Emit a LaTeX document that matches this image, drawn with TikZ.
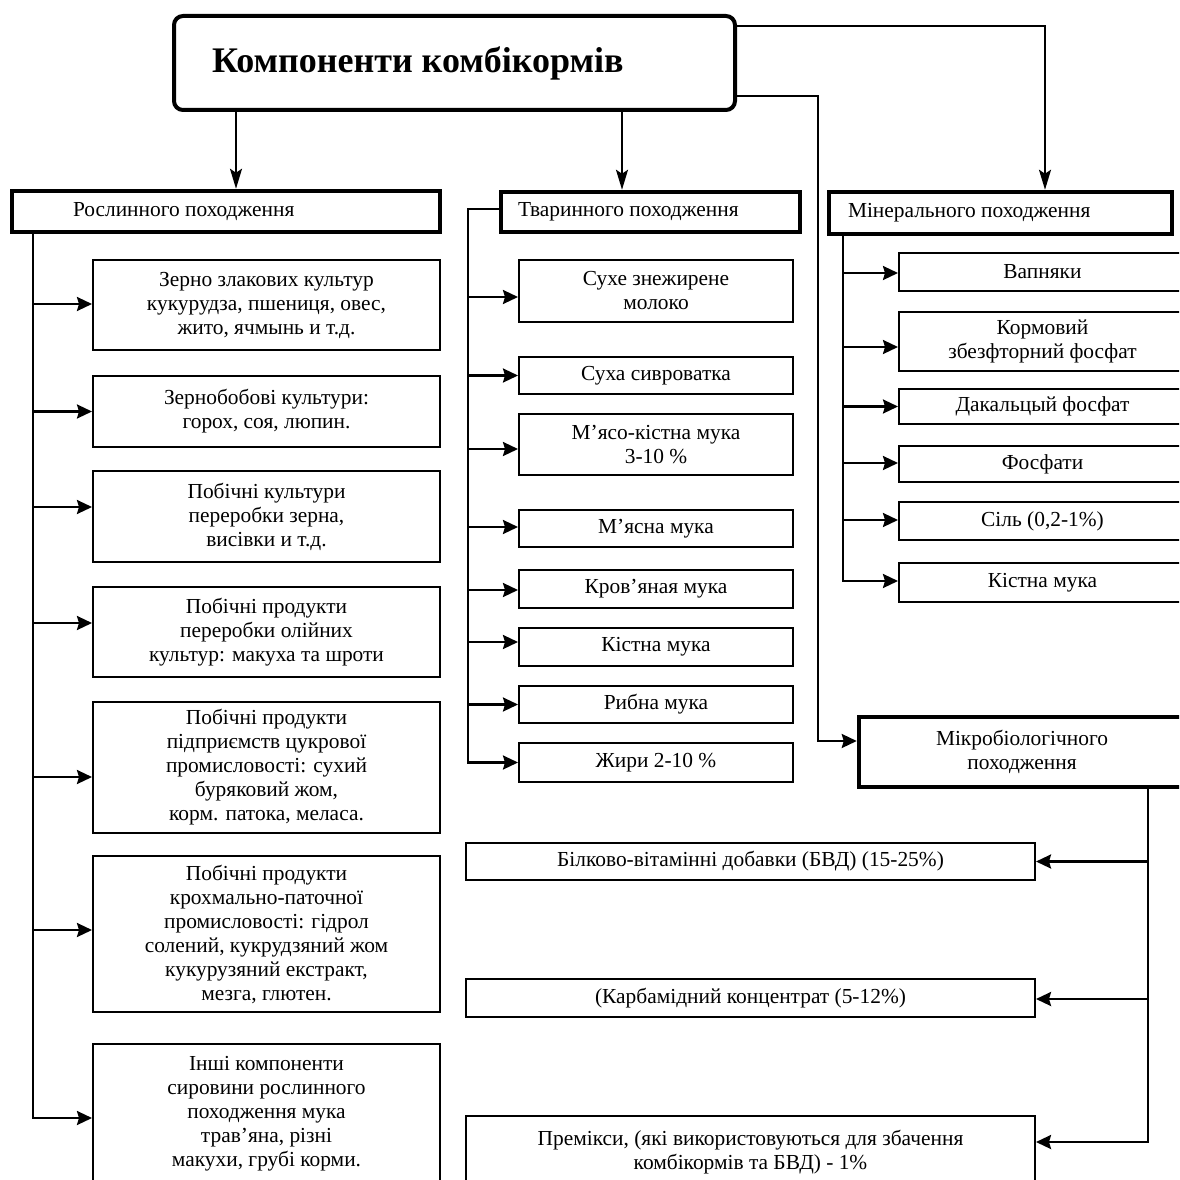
\documentclass[tikz,border=0pt]{standalone}
\usepackage{fontspec}
\setmainfont{Liberation Serif}
\usetikzlibrary{arrows.meta}
\begin{document}
\begin{tikzpicture}[x=1pt,y=-1pt,
  box/.style={draw, line width=2pt, align=center, inner sep=0pt,
    font=\fontsize{21.4}{24}\selectfont},
  catbox/.style={box, line width=4.5pt},
  titlebox/.style={draw, line width=4pt, rounded corners=9pt, inner sep=0pt,
    font=\fontsize{36}{40}\selectfont\bfseries},
  arr/.style={line width=2.4pt, -{Stealth[length=15pt,width=14pt,inset=2pt]}},
  downarr/.style={line width=2pt, -{Stealth[length=20pt,width=12pt,inset=4pt]}}]

\path[use as bounding box, clip] (0,0) rectangle (1179,1180);

% heading
\node[titlebox, minimum width=561pt, minimum height=94pt] (title) at (454.5,63)
  {\makebox[485pt][l]{Компоненти комбікормів}};

% three groups
\node[catbox, minimum width=428pt, minimum height=41pt] (ros) at (226,211.5)
  {\makebox[306pt][l]{Рослинного походження}};
\node[catbox, minimum width=299pt, minimum height=40pt] (tva) at (650.5,212)
  {\makebox[265pt][l]{Тваринного походження}};
\node[catbox, minimum width=343pt, minimum height=42pt] (min) at (1000.5,213)
  {\makebox[305pt][l]{Мінерального походження}};

% plant-origin components
\begin{scope}[every node/.append style={box, minimum width=347pt}]
\node[minimum height=90pt] (l1) at (266.5,305) {Зерно злакових культур\\кукурудза, пшениця, овес,\\жито, ячмынь и т.д.};
\node[minimum height=71pt] (l2) at (266.5,411.5) {Зернобобові культури:\\горох, соя, люпин.};
\node[minimum height=91pt] (l3) at (266.5,516.5) {Побічні культури\\переробки зерна,\\висівки и т.д.};
\node[minimum height=90pt] (l4) at (266.5,632) {Побічні продукти\\переробки олійних\\культур: макуха та шроти};
\node[minimum height=131pt] (l5) at (266.5,767.5) {Побічні продукти\\підприємств цукрової\\промисловості: сухий\\буряковий жом,\\ корм. патока, меласа.};
\node[minimum height=156pt] (l6) at (266.5,934) {Побічні продукти\\крохмально-паточної\\промисловості: гідрол\\солений, кукрудзяний жом\\кукурузяний екстракт,\\мезга, глютен.};
\node[minimum height=140pt] (l7) at (266.5,1114) {Інші компоненти\\сировини рослинного\\походження мука\\трав’яна, різні\\макухи, грубі корми.};
\end{scope}

% animal-origin components
\begin{scope}[every node/.append style={box, minimum width=274pt}]
\node[minimum height=62pt] (m1) at (656,291) {Сухе знежирене\\молоко};
\node[minimum height=37pt] (m2) at (656,375.5) {Суха сивроватка};
\node[minimum height=61pt] (m3) at (656,444.5) {М’ясо-кістна мука\\3-10 \%};
\node[minimum height=37pt] (m4) at (656,528.5) {М’ясна мука};
\node[minimum height=38pt] (m5) at (656,589) {Кров’яная мука};
\node[minimum height=38pt] (m6) at (656,647) {Кістна мука};
\node[minimum height=37pt] (m7) at (656,704.5) {Рибна мука};
\node[minimum height=39pt] (m8) at (656,762.5) {Жири 2-10 \%};
\end{scope}

% mineral components
\begin{scope}[every node/.append style={box, minimum width=287pt}]
\node[minimum height=38pt] (r1) at (1042.5,272) {Вапняки};
\node[minimum height=59pt] (r2) at (1042.5,341.5) {Кормовий\\збезфторний фосфат};
\node[minimum height=35pt] (r3) at (1042.5,406.5) {Дакальцый фосфат};
\node[minimum height=36pt] (r4) at (1042.5,464) {Фосфати};
\node[minimum height=38pt] (r5) at (1042.5,521) {Сіль (0,2-1\%)};
\node[minimum height=39pt] (r6) at (1042.5,582.5) {Кістна мука};
\end{scope}

% microbiological origin and its products
\node[catbox, minimum width=326pt, minimum height=70pt] (mic) at (1022,752)
  {Мікробіологічного\\походження};
\begin{scope}[every node/.append style={box, minimum width=569pt}]
\node[minimum height=37pt] (bvd) at (750.5,861.5) {Білково-вітамінні добавки (БВД) (15-25\%)};
\node[minimum height=38pt] (karb) at (750.5,998) {(Карбамідний концентрат (5-12\%)};
\node[minimum height=72pt] (prem) at (750.5,1152) {Премікси, (які використовуються для збачення\\комбікормів та БВД) - 1\%};
\end{scope}

% bus positions
\coordinate (busL) at (33,0);
\coordinate (busM) at (468,0);
\coordinate (busR) at (843,0);
\coordinate (busMic) at (818,0);
\coordinate (busB) at (1148,0);
\coordinate (toMin) at (1045,0);

% heading to groups
\draw[downarr] (title.south -| 236,0) -- (ros.north -| 236,0);
\draw[downarr] (title.south -| 622,0) -- (tva.north -| 622,0);
\draw[downarr] ([yshift=-12pt]title.north east) -| (min.north -| toMin);
\draw[arr] ([yshift=16pt]title.south east) -| ([yshift=11pt]mic.west -| busMic) -- ([yshift=11pt]mic.west);

% plant-origin bus
\draw[arr] (ros.south -| busL) |- ([yshift=-4pt]l7.west);
\draw[arr] ([yshift=1pt]l1.west -| busL) -- ([yshift=1pt]l1.west);
\draw[arr] (l2.west -| busL) -- (l2.west);
\draw[arr] ([yshift=9.5pt]l3.west -| busL) -- ([yshift=9.5pt]l3.west);
\draw[arr] ([yshift=9pt]l4.west -| busL) -- ([yshift=9pt]l4.west);
\draw[arr] ([yshift=-9.5pt]l5.west -| busL) -- ([yshift=-9.5pt]l5.west);
\draw[arr] ([yshift=4pt]l6.west -| busL) -- ([yshift=4pt]l6.west);

% animal-origin bus
\draw[arr] ([yshift=3pt]tva.west) -| (busM |- m8.west) -- (m8.west);
\draw[arr] ([yshift=-6pt]m1.west -| busM) -- ([yshift=-6pt]m1.west);
\draw[arr] (m2.west -| busM) -- (m2.west);
\draw[arr] ([yshift=-4.5pt]m3.west -| busM) -- ([yshift=-4.5pt]m3.west);
\draw[arr] ([yshift=1.5pt]m4.west -| busM) -- ([yshift=1.5pt]m4.west);
\draw[arr] ([yshift=-1pt]m5.west -| busM) -- ([yshift=-1pt]m5.west);
\draw[arr] ([yshift=5pt]m6.west -| busM) -- ([yshift=5pt]m6.west);
\draw[arr] (m7.west -| busM) -- (m7.west);

% mineral bus
\draw[arr] (min.south -| busR) |- ([yshift=1.5pt]r6.west);
\draw[arr] ([yshift=-1pt]r1.west -| busR) -- ([yshift=-1pt]r1.west);
\draw[arr] ([yshift=-5.5pt]r2.west -| busR) -- ([yshift=-5.5pt]r2.west);
\draw[arr] (r3.west -| busR) -- (r3.west);
\draw[arr] ([yshift=1pt]r4.west -| busR) -- ([yshift=1pt]r4.west);
\draw[arr] ([yshift=1pt]r5.west -| busR) -- ([yshift=1pt]r5.west);

% microbiological bus
\draw[arr] (mic.south -| busB) |- ([yshift=10pt]prem.east);
\draw[arr] (bvd.east -| busB) -- (bvd.east);
\draw[arr] ([yshift=-1pt]karb.east -| busB) -- ([yshift=-1pt]karb.east);

\end{tikzpicture}
\end{document}
